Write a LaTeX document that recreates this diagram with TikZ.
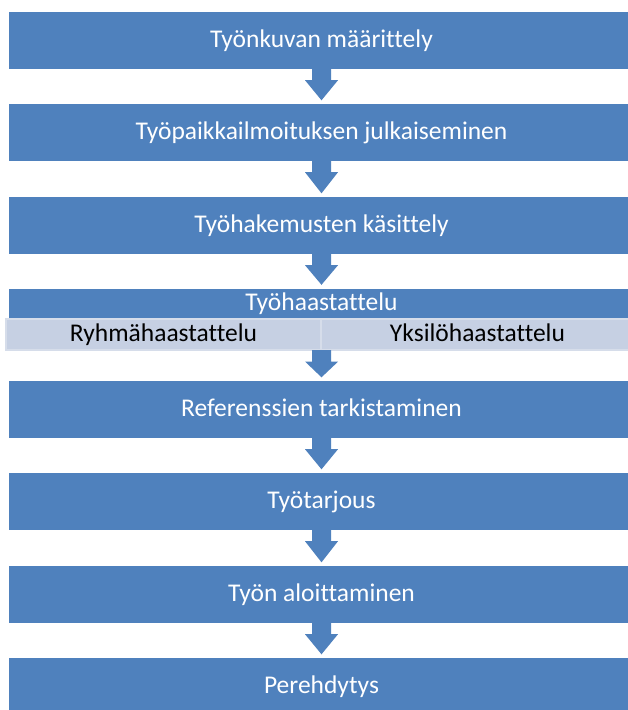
\documentclass[tikz,border=0pt]{standalone}
\usepackage{fontspec}
\setmainfont{Carlito}[Ligatures=NoCommon]
\usetikzlibrary{calc}
\definecolor{boxblue}{HTML}{4F81BD}
\definecolor{bandblue}{HTML}{C6D0E3}
\definecolor{bandline}{HTML}{D6DDEA}
\newcommand\flowarrow[2]{%
  \fill[boxblue] ($(#1)+(-9.5,-0.5)$) -- ($(#1)+(-9.5,11)$) -- ($(#1)+(-16.5,11)$)
    -- ($(#2)+(0,-3.5)$) -- ($(#1)+(16.5,11)$) -- ($(#1)+(9.5,11)$) -- ($(#1)+(9.5,-0.5)$) -- cycle;}
\begin{document}
\begin{tikzpicture}[x=1pt,y=-1pt,
  stepbox/.style={fill=boxblue, draw=none, minimum width=625pt, minimum height=57pt,
    inner sep=0pt, text=white, text height=19.5pt, text depth=6.5pt,
    font=\fontsize{25.5}{28}\selectfont},
  headbox/.style={stepbox, minimum height=30pt},
  halfbox/.style={fill=bandblue, draw=bandline, line width=1.2pt, minimum height=31pt,
    inner sep=0pt, text=black, text height=19.5pt, text depth=6.5pt,
    font=\fontsize{25.5}{28}\selectfont}]
\useasboundingbox (0,0) rectangle (628,710);
\fill[white] (0,0) rectangle (628,710);
\node[stepbox] (b1) at (321.5,40.5) {Työnkuvan määrittely};
\node[stepbox] (b2) at (321.5,132.5) {Työpaikkailmoituksen julkaiseminen};
\node[stepbox] (b3) at (321.5,225.5) {Työhakemusten käsittely};
\node[headbox] (b4) at (321.5,303.5) {Työhaastattelu};
\node[halfbox, minimum width=315pt] (h1) at (163.5,334.5) {Ryhmähaastattelu};
\node[halfbox, minimum width=313pt] (h2) at (477.5,334.5) {Yksilöhaastattelu};
\coordinate (band) at (h1.south east);
\node[stepbox] (b5) at (321.5,409.5) {Referenssien tarkistaminen};
\node[stepbox] (b6) at (321.5,501.5) {Työtarjous};
\node[stepbox] (b7) at (321.5,594.5) {Työn aloittaminen};
\node[stepbox] (b8) at (321.5,686.5) {Perehdytys};
\flowarrow{b1.south}{b2.north}
\flowarrow{b2.south}{b3.north}
\flowarrow{b3.south}{b4.north}
\flowarrow{band}{b5.north}
\flowarrow{b5.south}{b6.north}
\flowarrow{b6.south}{b7.north}
\flowarrow{b7.south}{b8.north}
\end{tikzpicture}
\end{document}
